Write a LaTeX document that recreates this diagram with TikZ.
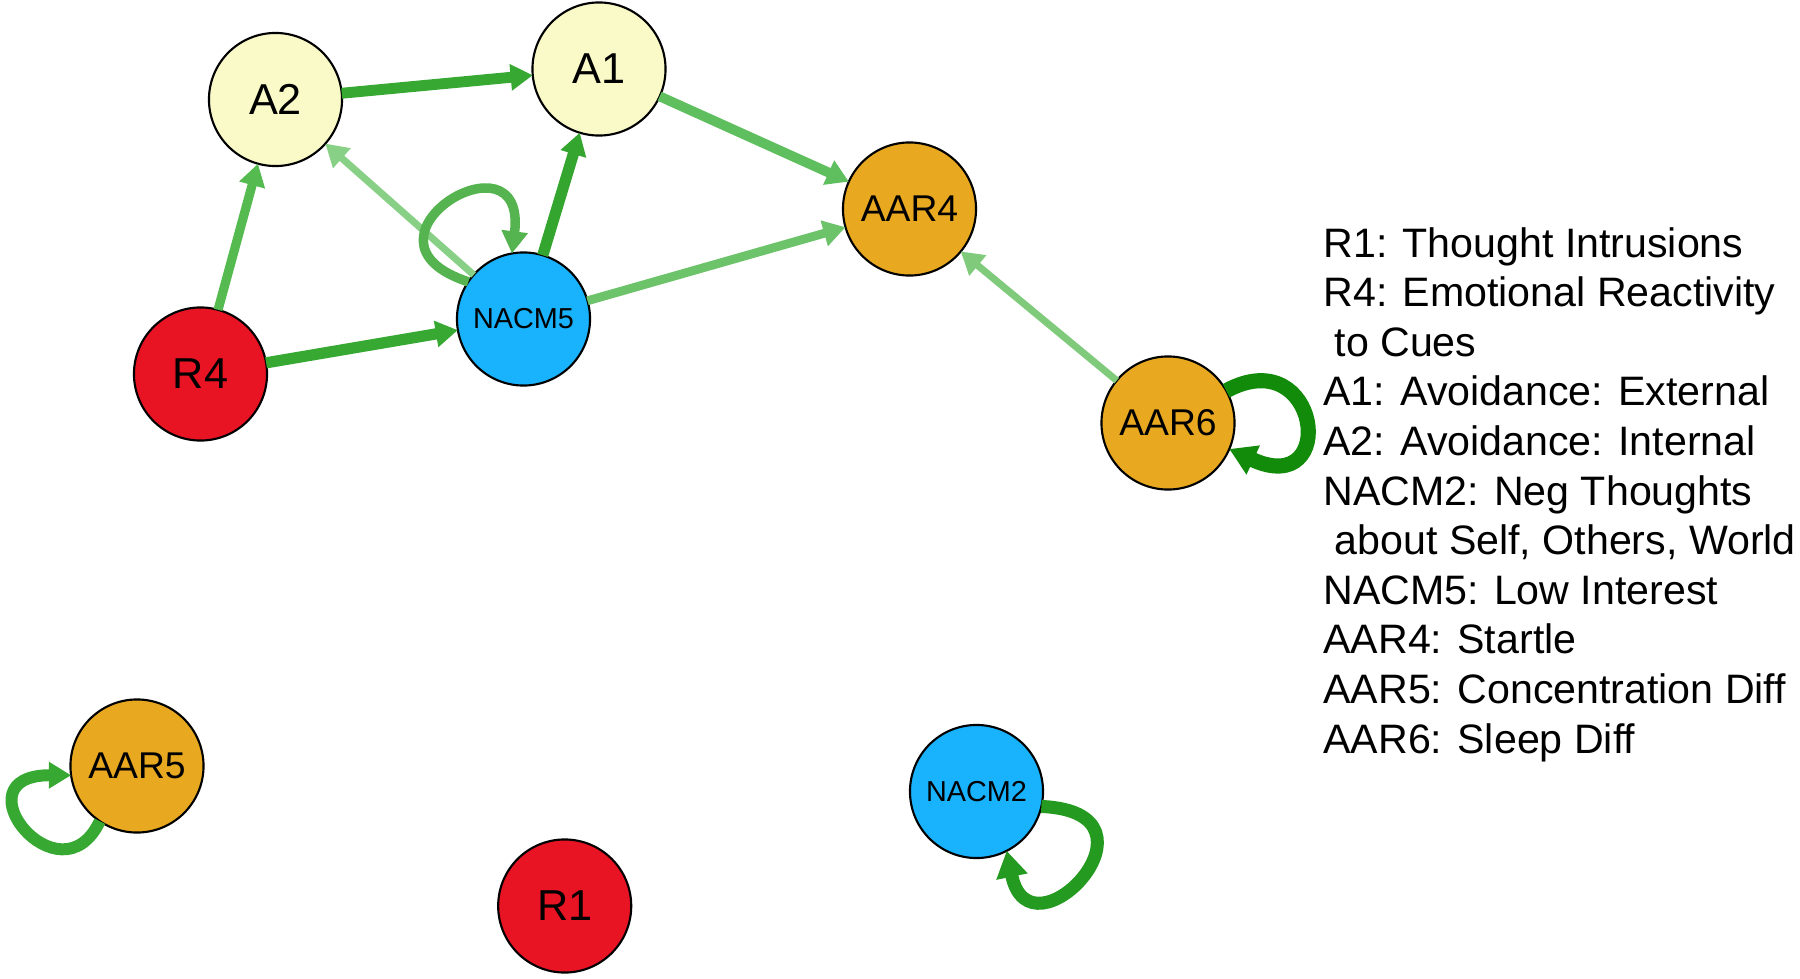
\documentclass[tikz,border=0pt]{standalone}
\usepackage{fontspec}
\setmainfont{Liberation Sans}
\usetikzlibrary{arrows.meta}
\definecolor{yfill}{HTML}{FAF9C8}
\definecolor{rfill}{HTML}{E81323}
\definecolor{bfill}{HTML}{19B2FD}
\definecolor{ofill}{HTML}{E8A820}
\definecolor{gA}{HTML}{37A932}
\definecolor{gB}{HTML}{34A52E}
\definecolor{gC}{HTML}{55BA50}
\definecolor{gD}{HTML}{88D086}
\definecolor{gE}{HTML}{5FBF5F}
\definecolor{gF}{HTML}{6CC36A}
\definecolor{gG}{HTML}{7FCB7B}
\definecolor{gH}{HTML}{128A0A}
\definecolor{gI}{HTML}{259A20}
\definecolor{gJ}{HTML}{55B44F}
\begin{document}
\begin{tikzpicture}[x=0.01cm,y=-0.01cm,
  vnode/.style={circle, draw=black, line width=0.6pt, minimum size=1.33cm, inner sep=0pt, outer sep=0pt},
  big/.style={vnode, font=\fontsize{12.3pt}{14pt}\selectfont},
  mid/.style={vnode, font=\fontsize{10.6pt}{12pt}\selectfont},
  small/.style={vnode, font=\fontsize{8.2pt}{10pt}\selectfont},
  edge/.style={-{Triangle[length=6.3pt,width=7.2pt]}},
  bigedge/.style={-{Triangle[length=7.5pt,width=8.6pt]}},
]
\useasboundingbox (0,0) rectangle (1800,979);

% nodes
\node[big, fill=yfill] (a2) at (275.5,99.5) {A2};
\node[big, fill=yfill] (a1) at (599,69) {A1};
\node[mid, fill=ofill] (aar4) at (909.5,209) {AAR4};
\node[small, fill=bfill] (nacm5) at (523.5,319) {NACM5};
\node[big, fill=rfill] (r4) at (200.5,374) {R4};
\node[mid, fill=ofill] (aar6) at (1168,423) {AAR6};
\node[mid, fill=ofill] (aar5) at (137,766) {AAR5};
\node[small, fill=bfill] (nacm2) at (976.5,791.5) {NACM2};
\node[big, fill=rfill] (r1) at (564.7,906) {R1};

% edges
\draw[edge, gD, line width=2.0pt] (nacm5) -- (a2);
\draw[edge, gA, line width=3.1pt] (a2) -- (a1);
\draw[edge, gB, line width=3.2pt] (nacm5) -- (a1);
\draw[edge, gA, line width=3.2pt] (r4) -- (nacm5);
\draw[edge, gC, line width=2.6pt] (r4) -- (a2);
\draw[edge, gE, line width=2.8pt] (a1) -- (aar4);
\draw[edge, gF, line width=2.5pt] (nacm5) -- (aar4);
\draw[edge, gG, line width=2.0pt] (aar6) -- (aar4);

% self loops
\draw[edge, gJ, line width=2.7pt] (nacm5.146) .. controls (340,240) and (528,125) .. (nacm5.100);
\draw[bigedge, gH, line width=4.3pt] (aar6.29) .. controls (1320,340) and (1340,500) .. (aar6.-23);
\draw[edge, gA, line width=3.4pt] (aar5.236) .. controls (60,905) and (-45,775) .. (aar5.188);
\draw[bigedge, gI, line width=3.7pt] (nacm2.-13) .. controls (1175,812) and (1030,965) .. (nacm2.-63);

% legend
\node[anchor=base west, align=left, inner sep=0pt, font=\fontsize{11.7pt}{14.1pt}\selectfont] (legend) at (1322.7,753)
{R1: Thought Intrusions\\
R4: Emotional Reactivity\\
\hspace*{3.2pt}to Cues\\
A1: Avoidance: External\\
A2: Avoidance: Internal\\
NACM2: Neg Thoughts\\
\hspace*{3.2pt}about Self, Others, World\\
NACM5: Low Interest\\
AAR4: Startle\\
AAR5: Concentration Diff\\
AAR6: Sleep Diff};
\end{tikzpicture}
\end{document}
